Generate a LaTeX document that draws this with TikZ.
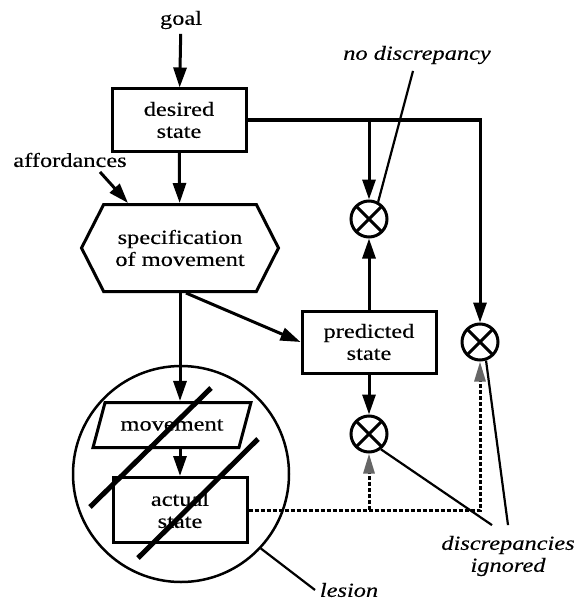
\documentclass[tikz,border=0pt]{standalone}
\usepackage{fontspec}
\setmainfont{Liberation Serif}[FakeStretch=1.22,
  UprightFeatures={FakeBold=0.3}, ItalicFeatures={FakeBold=0.3}]
\usetikzlibrary{arrows.meta,shapes.geometric,shapes.symbols}

\begin{document}
\begin{tikzpicture}
  [x=1pt, y=-1pt, line width=3pt,
    >={Triangle[length=20pt,width=13pt]},
    every node/.style={%
      font=\fontsize{20pt}{22pt}\selectfont, align=center
    },
    box/.style={%
      rectangle, draw, line width=3pt,
      minimum width=134pt, minimum height=62pt, inner sep=1pt
    },
    hexbox/.style={%
      signal, signal to=west and east, signal pointer angle=126,
      draw, line width=3pt, minimum width=197pt, minimum height=87pt
    },
    slantbox/.style={%
      trapezium, trapezium left angle=55, trapezium right angle=125,
      trapezium stretches=true, draw, line width=3pt,
      minimum width=158pt, minimum height=45pt, inner sep=1pt
    },
    cmp/.style={%
      circle, draw, line width=3pt, minimum size=36pt, inner sep=0pt,
      path picture={%
        \draw[line width=3pt]
          (path picture bounding box.north west) -- (path picture bounding box.south east)
          (path picture bounding box.north east) -- (path picture bounding box.south west);
      }
    },
    ring/.style={%
      circle, draw, line width=2.5pt, minimum size=216pt, inner sep=0pt
    },
    arr/.style={->, line width=3pt},
    dsh/.style={%
      -{Triangle[length=20pt,width=11pt,color=black!60]},
      line width=3pt, dash pattern=on 4pt off 2pt
    },
    slash/.style={line width=5pt},
    leader/.style={line width=2.2pt},
    note/.style={font=\fontsize{20pt}{22pt}\selectfont\itshape},
  ]
  \useasboundingbox (0,0) rectangle (577,607);

  % main column
  \node (goal) at (181,20) {goal};
  \node[box] (desired) at (179,120) {desired\\state};
  \node (aff) at (70,160) {affordances};
  \node[hexbox] (spec) at (180,248) {specification\\of movement};
  \node[box] (pred) at (369,342) {predicted\\state};

  % the lesioned part
  \node[ring] (lesring) at (181,474) {};
  \node[slantbox] (mov) at (172,425) {movement};
  \node[box, minimum height=65pt] (act) at (180,510) {actual\\state};

  % comparators
  \node[cmp] (cmpT) at (369,219) {};
  \node[cmp] (cmpM) at (369,434) {};
  \node[cmp] (cmpR) at (480,342) {};

  % labels
  \node[note] (nodisc) at (417,55) {no discrepancy};
  \node[note] (disc) at (508,556) {discrepancies\\ignored};
  \node[note] (lesion) at (349,590) {lesion};

  \draw[arr] (goal) -- (desired);
  \draw[arr] (desired) -- (spec);
  \draw[arr] ([xshift=30pt]aff.south) -- ([xshift=-52pt]spec.north);
  \draw[arr] ([xshift=6pt]spec.south) -- (pred.west);
  \draw[arr] (spec.south) -- (spec.south |- mov.north);
  \draw[arr] (act.north |- mov.south) -- (act.north);

  \draw[arr] (desired.east) -| (cmpR);
  \draw[arr] (desired.east -| cmpT) -- (cmpT);
  \draw[arr] (pred) -- (cmpT);
  \draw[arr] (pred) -- (cmpM);

  \draw[dsh] (act.east) -| (cmpR);
  \draw[dsh] (act.east -| cmpM) -- (cmpM);

  \draw[slash] (90,507) -- (211,388);
  \draw[slash] (138,558) -- (258,439);

  \draw[leader] (nodisc.south) ++(-4pt,-2pt) -- (cmpT.62);
  \draw[leader] (cmpM.-52) -- ([xshift=-16pt,yshift=6pt]disc.north);
  \draw[leader] (cmpR.-72) -- ([yshift=6pt]disc.north);
  \draw[leader] (lesring.-43) -- (lesion.west);

\end{tikzpicture}
\end{document}
